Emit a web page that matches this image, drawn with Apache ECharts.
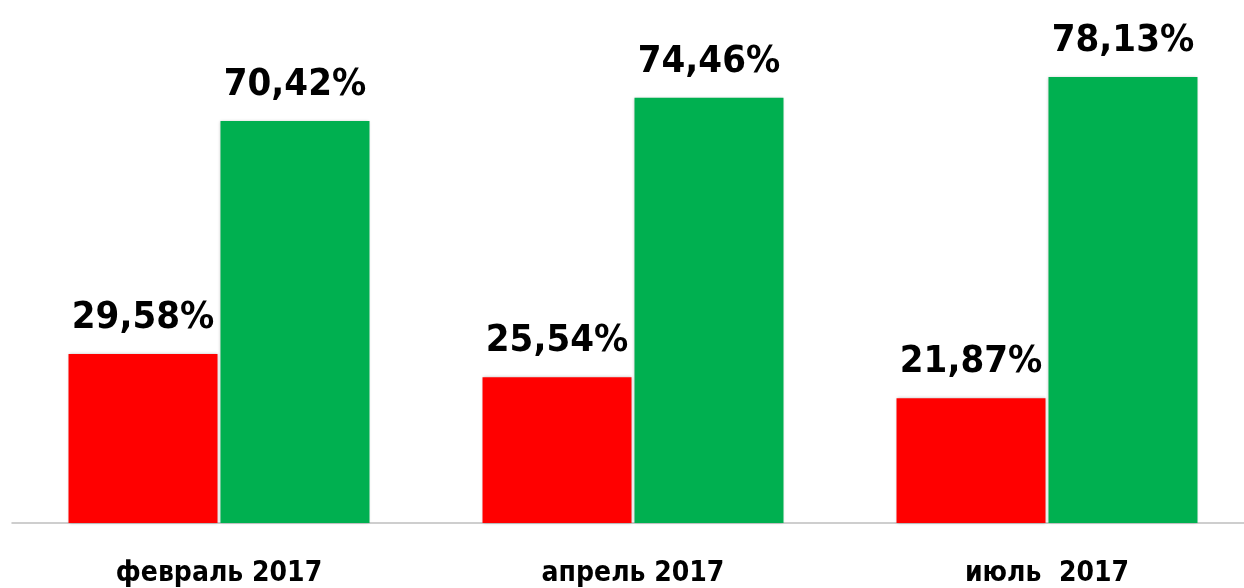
<!DOCTYPE html>
<html>
<head>
<meta charset="utf-8">
<script src="https://cdn.jsdelivr.net/npm/echarts@6/dist/echarts.min.js"></script>
<style>
    html, body { margin: 0; padding: 0; background: #fff; }
    #chart { width: 1244px; height: 588px; }
</style>
</head>
<body>
<div id="chart"></div>
<script>
    // периоды
    var months = ['февраль 2017', 'апрель 2017', 'июль  2017'];
    // красные столбцы
    var redValues = [29.58, 25.54, 21.87];
    // зелёные столбцы
    var greenValues = [70.42, 74.46, 78.13];

    var font = '"DejaVu Sans Condensed", "DejaVu Sans", sans-serif';

    function fmt(p) {
        return p.value.toFixed(2).replace('.', ',') + '%';
    }

    var chart = echarts.init(document.getElementById('chart'));
    chart.setOption({
        animation: false,
        grid: { left: 12, right: -10, top: 0, bottom: 65, outerBoundsMode: 'none' },
        xAxis: {
            type: 'category',
            data: months,
            axisTick: { show: false },
            axisLine: { lineStyle: { color: '#bfbfbf', width: 1.5 } },
            axisLabel: {
                margin: 37,
                color: '#000',
                fontSize: 28,
                fontWeight: 'bold',
                fontFamily: font
            }
        },
        yAxis: {
            type: 'value',
            min: 0,
            max: 91.6,
            show: false,
            splitLine: { show: false }
        },
        series: [
            {
                name: 'red',
                type: 'bar',
                data: redValues,
                barWidth: 149,
                barGap: '2%',
                itemStyle: {
                    color: '#ff0000',
                    shadowBlur: 3,
                    shadowColor: 'rgba(0,0,0,0.25)'
                },
                label: {
                    show: true,
                    position: 'top',
                    distance: 17,
                    formatter: fmt,
                    color: '#000',
                    fontSize: 38,
                    fontWeight: 'bold',
                    fontFamily: font
                }
            },
            {
                name: 'green',
                type: 'bar',
                data: greenValues,
                barWidth: 149,
                itemStyle: {
                    color: '#00b050',
                    shadowBlur: 3,
                    shadowColor: 'rgba(0,0,0,0.25)'
                },
                label: {
                    show: true,
                    position: 'top',
                    distance: 17,
                    formatter: fmt,
                    color: '#000',
                    fontSize: 38,
                    fontWeight: 'bold',
                    fontFamily: font
                }
            }
        ]
    });
</script>
</body>
</html>
